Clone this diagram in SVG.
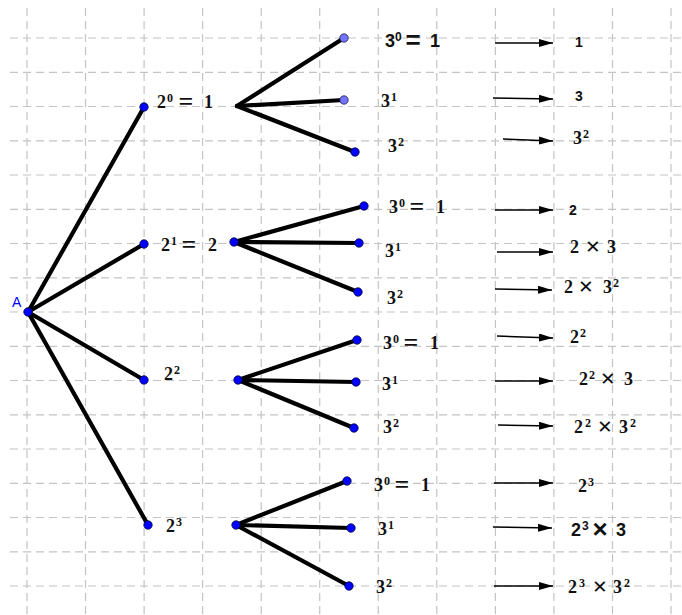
<svg xmlns="http://www.w3.org/2000/svg" width="682" height="615" viewBox="0 0 682 615">
<defs>
<style>
.grid line{stroke:#c4c4c4;stroke-width:1.2;stroke-dasharray:8 5}
.edge{stroke:#000;stroke-width:4.2;stroke-linecap:round;fill:none}
.arr{stroke:#000;stroke-width:1.5;fill:none}
.dot{fill:#0000ff;stroke:#00003a;stroke-width:0.8}
.ldot{fill:#7474ff;stroke:#202050;stroke-width:0.8}
text{font-family:"Liberation Serif","DejaVu Serif",serif;font-weight:bold;font-size:18px;fill:#111}
.sup{font-size:12px}
.op{font-size:26px}
.sans{font-family:"Liberation Sans","DejaVu Sans",sans-serif}
.small{font-size:14px}
.lblA{font-family:"Liberation Sans",sans-serif;font-weight:normal;font-size:14px;fill:#0000ff}
</style>
<marker id="ah" markerUnits="userSpaceOnUse" markerWidth="15" markerHeight="9" refX="14" refY="4" orient="auto">
<path d="M0,0 L14,4 L0,8 z" fill="#000"/>
</marker>
</defs>
<rect width="682" height="615" fill="#fff"/>
<g class="grid">
<line x1="10" y1="38" x2="682" y2="38"/>
<line x1="10" y1="72.3" x2="682" y2="72.3"/>
<line x1="10" y1="106.5" x2="682" y2="106.5"/>
<line x1="10" y1="140.8" x2="682" y2="140.8"/>
<line x1="10" y1="175" x2="682" y2="175"/>
<line x1="10" y1="209.3" x2="682" y2="209.3"/>
<line x1="10" y1="243.5" x2="682" y2="243.5"/>
<line x1="10" y1="277.8" x2="682" y2="277.8"/>
<line x1="10" y1="312" x2="682" y2="312"/>
<line x1="10" y1="346.3" x2="682" y2="346.3"/>
<line x1="10" y1="380.5" x2="682" y2="380.5"/>
<line x1="10" y1="414.8" x2="682" y2="414.8"/>
<line x1="10" y1="449" x2="682" y2="449"/>
<line x1="10" y1="483.3" x2="682" y2="483.3"/>
<line x1="10" y1="517.5" x2="682" y2="517.5"/>
<line x1="10" y1="551.8" x2="682" y2="551.8"/>
<line x1="10" y1="586" x2="682" y2="586"/>
<line x1="27" y1="8" x2="27" y2="615"/>
<line x1="85.5" y1="8" x2="85.5" y2="615"/>
<line x1="144.1" y1="8" x2="144.1" y2="615"/>
<line x1="202.6" y1="8" x2="202.6" y2="615"/>
<line x1="261.2" y1="8" x2="261.2" y2="615"/>
<line x1="319.7" y1="8" x2="319.7" y2="615"/>
<line x1="378.3" y1="8" x2="378.3" y2="615"/>
<line x1="436.8" y1="8" x2="436.8" y2="615"/>
<line x1="495.4" y1="8" x2="495.4" y2="615"/>
<line x1="553.9" y1="8" x2="553.9" y2="615"/>
<line x1="612.5" y1="8" x2="612.5" y2="615"/>
<line x1="671" y1="8" x2="671" y2="615"/>
</g>
<g id="connectors">
<line class="edge" x1="28" y1="312" x2="144" y2="107"/>
<line class="edge" x1="28" y1="312" x2="144" y2="244"/>
<line class="edge" x1="28" y1="312" x2="144" y2="380"/>
<line class="edge" x1="28" y1="312" x2="148" y2="525"/>
<line class="edge" x1="237" y1="106" x2="344" y2="38"/>
<line class="edge" x1="237" y1="106" x2="344" y2="100"/>
<line class="edge" x1="237" y1="106" x2="355" y2="152"/>
<line class="edge" x1="234" y1="242" x2="364" y2="206"/>
<line class="edge" x1="234" y1="242" x2="359" y2="243"/>
<line class="edge" x1="234" y1="242" x2="358" y2="292"/>
<line class="edge" x1="238" y1="380" x2="357" y2="340"/>
<line class="edge" x1="238" y1="380" x2="356" y2="382"/>
<line class="edge" x1="238" y1="380" x2="354" y2="428"/>
<line class="edge" x1="236" y1="525" x2="347" y2="481"/>
<line class="edge" x1="236" y1="525" x2="351" y2="528"/>
<line class="edge" x1="236" y1="525" x2="349" y2="586"/>
<line class="arr" x1="495" y1="43" x2="553" y2="43" marker-end="url(#ah)"/>
<line class="arr" x1="493" y1="98" x2="553" y2="99" marker-end="url(#ah)"/>
<line class="arr" x1="503" y1="139" x2="553" y2="141" marker-end="url(#ah)"/>
<line class="arr" x1="495" y1="210" x2="553" y2="210" marker-end="url(#ah)"/>
<line class="arr" x1="497" y1="252" x2="553" y2="252" marker-end="url(#ah)"/>
<line class="arr" x1="495" y1="289" x2="552" y2="290" marker-end="url(#ah)"/>
<line class="arr" x1="497" y1="336" x2="553" y2="338" marker-end="url(#ah)"/>
<line class="arr" x1="495" y1="381" x2="553" y2="381" marker-end="url(#ah)"/>
<line class="arr" x1="498" y1="425" x2="553" y2="426" marker-end="url(#ah)"/>
<line class="arr" x1="494" y1="483" x2="553" y2="483" marker-end="url(#ah)"/>
<line class="arr" x1="493" y1="527" x2="552" y2="528" marker-end="url(#ah)"/>
<line class="arr" x1="494" y1="586" x2="553" y2="586" marker-end="url(#ah)"/>
</g>
<g id="nodeA"><circle class="dot" cx="28" cy="312" r="4.2"/><text class="lblA" x="12" y="307">A</text></g>
<g id="n2_0"><circle class="dot" cx="144" cy="107" r="4.2"/><text x="157" y="108">2<tspan class="sup" x="167" y="102">0</tspan><tspan class="op" x="186" y="110" text-anchor="middle">=</tspan><tspan x="204" y="108">1</tspan></text></g>
<g id="n2_1"><circle class="dot" cx="144" cy="244" r="4.2"/><text x="161" y="251">2<tspan class="sup" x="171" y="245">1</tspan><tspan class="op" x="189" y="253" text-anchor="middle">=</tspan><tspan x="208" y="251">2</tspan></text></g>
<g id="n2_2"><circle class="dot" cx="144" cy="380" r="4.2"/><text x="164" y="380">2<tspan class="sup" x="174" y="374">2</tspan></text></g>
<g id="n2_3"><circle class="dot" cx="148" cy="525" r="4.2"/><text x="166" y="532">2<tspan class="sup" x="176" y="526">3</tspan></text></g>
<g id="hub1"><circle cx="237" cy="106" r="0" fill="none"/></g>
<g id="hub2"><circle class="dot" cx="234" cy="242" r="4.2"/></g>
<g id="hub3"><circle class="dot" cx="238" cy="380" r="4.2"/></g>
<g id="hub4"><circle class="dot" cx="236" cy="525" r="4.2"/></g>
<g id="g1a"><circle class="ldot" cx="344" cy="38" r="4.2"/><text class="sans" x="385" y="47">3<tspan class="sup" x="395" y="41">0</tspan><tspan class="op" x="413" y="49" text-anchor="middle">=</tspan><tspan x="430" y="47">1</tspan></text><text class="sans small" x="575" y="47">1</text></g>
<g id="g1b"><circle class="ldot" cx="344" cy="100" r="4.2"/><text x="381" y="107">3<tspan class="sup" x="391" y="101">1</tspan></text><text class="sans small" x="575" y="101">3</text></g>
<g id="g1c"><circle class="dot" cx="355" cy="152" r="4.2"/><text x="388" y="152">3<tspan class="sup" x="398" y="146">2</tspan></text><text x="573" y="144">3<tspan class="sup" x="583" y="138">2</tspan></text></g>
<g id="g2a"><circle class="dot" cx="364" cy="206" r="4.2"/><text x="389" y="213">3<tspan class="sup" x="399" y="207">0</tspan><tspan class="op" x="417" y="215" text-anchor="middle">=</tspan><tspan x="436" y="213">1</tspan></text><text class="sans small" x="569" y="215">2</text></g>
<g id="g2b"><circle class="dot" cx="359" cy="243" r="4.2"/><text x="385" y="257">3<tspan class="sup" x="395" y="251">1</tspan></text><text x="570" y="253">2<tspan class="op" x="593" y="255" text-anchor="middle">×</tspan><tspan x="607" y="253">3</tspan></text></g>
<g id="g2c"><circle class="dot" cx="358" cy="292" r="4.2"/><text x="387" y="304">3<tspan class="sup" x="397" y="298">2</tspan></text><text x="564" y="293">2<tspan class="op" x="586" y="295" text-anchor="middle">×</tspan><tspan x="603" y="293">3</tspan><tspan class="sup" x="613" y="287">2</tspan></text></g>
<g id="g3a"><circle class="dot" cx="357" cy="340" r="4.2"/><text x="383" y="349">3<tspan class="sup" x="393" y="343">0</tspan><tspan class="op" x="411" y="351" text-anchor="middle">=</tspan><tspan x="430" y="349">1</tspan></text><text x="570" y="343">2<tspan class="sup" x="580" y="337">2</tspan></text></g>
<g id="g3b"><circle class="dot" cx="356" cy="382" r="4.2"/><text x="382" y="390">3<tspan class="sup" x="392" y="384">1</tspan></text><text x="579" y="385">2<tspan class="sup" x="589" y="379">2</tspan><tspan class="op" x="608" y="387" text-anchor="middle">×</tspan><tspan x="624" y="385">3</tspan></text></g>
<g id="g3c"><circle class="dot" cx="354" cy="428" r="4.2"/><text x="383" y="433">3<tspan class="sup" x="393" y="427">2</tspan></text><text x="574" y="433">2<tspan class="sup" x="585" y="427">2</tspan><tspan class="op" x="605" y="435" text-anchor="middle">×</tspan><tspan x="619" y="433">3</tspan><tspan class="sup" x="630" y="427">2</tspan></text></g>
<g id="g4a"><circle class="dot" cx="347" cy="481" r="4.2"/><text x="374" y="491">3<tspan class="sup" x="384" y="485">0</tspan><tspan class="op" x="402" y="493" text-anchor="middle">=</tspan><tspan x="421" y="491">1</tspan></text><text x="578" y="492">2<tspan class="sup" x="588" y="486">3</tspan></text></g>
<g id="g4b"><circle class="dot" cx="351" cy="528" r="4.2"/><text x="378" y="535">3<tspan class="sup" x="388" y="529">1</tspan></text><text class="sans" x="571" y="536">2<tspan class="sup" x="582" y="530">3</tspan><tspan class="op" x="600" y="538" text-anchor="middle">×</tspan><tspan x="616" y="536">3</tspan></text></g>
<g id="g4c"><circle class="dot" cx="349" cy="586" r="4.2"/><text x="376" y="593">3<tspan class="sup" x="386" y="587">2</tspan></text><text x="568" y="593">2<tspan class="sup" x="579" y="587">3</tspan><tspan class="op" x="600" y="595" text-anchor="middle">×</tspan><tspan x="613" y="593">3</tspan><tspan class="sup" x="624" y="587">2</tspan></text></g>
</svg>
